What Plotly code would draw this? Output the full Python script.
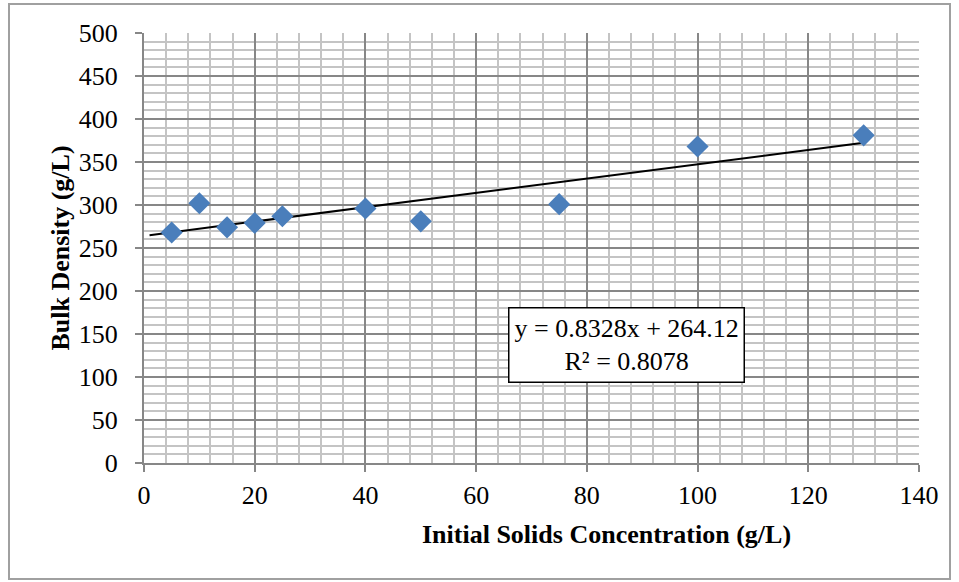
import plotly.graph_objects as go

# Data
conc = [5, 10, 15, 20, 25, 40, 50, 75, 100, 130]
density = [268, 302, 274, 279, 287, 296, 281, 301, 368, 381]

slope = 0.8328
intercept = 264.12
r2 = 0.8078
trend_x = [1, 130]
trend_y = [slope * v + intercept for v in trend_x]

x_ticks = [0, 20, 40, 60, 80, 100, 120, 140]
y_ticks = [0, 50, 100, 150, 200, 250, 300, 350, 400, 450, 500]

x_title = "Initial Solids Concentration (g/L)"
y_title = "Bulk Density (g/L)"

FONT = "Liberation Serif"
FS = 26

fig = go.Figure()
fig.add_trace(go.Scatter(
    x=trend_x, y=trend_y, mode="lines",
    line=dict(color="black", width=2), showlegend=False, hoverinfo="skip"))
fig.add_trace(go.Scatter(
    x=conc, y=density, mode="markers",
    marker=dict(symbol="diamond", size=17, color="#4a7ebb", line=dict(width=0)),
    showlegend=False))

L, R, T, B = 144, 40, 33, 119
W, H = 959, 582
pw, ph = W - L - R, H - T - B

def px2paper_x(px):
    return (px - L) / pw

def px2paper_y(py):
    return (H - B - py) / ph

fig.update_layout(
    width=W, height=H,
    margin=dict(l=L, r=R, t=T, b=B),
    paper_bgcolor="white", plot_bgcolor="white",
    font=dict(family=FONT, color="black", size=FS),
    xaxis=dict(
        range=[0, 140], tickvals=x_ticks, ticktext=[str(v) for v in x_ticks],
        tickfont=dict(family=FONT, size=FS, color="black"),
        showgrid=True, gridcolor="#878787", gridwidth=1.5,
        minor=dict(dtick=4, showgrid=True, gridcolor="#c4c4c4", gridwidth=1.5),
        showline=True, linecolor="#878787", linewidth=2,
        ticks="outside", ticklen=7, tickcolor="#878787", tickwidth=1.5,
        ticklabelstandoff=1,
        zeroline=False,
    ),
    yaxis=dict(
        range=[0, 500], tickvals=y_ticks, ticktext=[str(v) for v in y_ticks],
        tickfont=dict(family=FONT, size=FS, color="black"),
        showgrid=True, gridcolor="#878787", gridwidth=1.5,
        minor=dict(dtick=10, showgrid=True, gridcolor="#c4c4c4", gridwidth=1.5),
        showline=True, linecolor="#878787", linewidth=2,
        ticks="outside", ticklen=7, tickcolor="#878787", tickwidth=1.5,
        ticklabelstandoff=12,
        zeroline=False,
        title=dict(text=f"<b>{y_title}</b>",
                   font=dict(family=FONT, size=FS, color="black"), standoff=2),
    ),
)

# x-axis title (offset to the right as in the reference)
fig.add_annotation(
    xref="paper", yref="paper",
    x=px2paper_x(606), y=px2paper_y(534), xanchor="center", yanchor="middle",
    text=f"<b>{x_title}</b>", showarrow=False,
    font=dict(family=FONT, size=FS, color="black"),
)

# outer chart border
fig.add_shape(type="rect", xref="paper", yref="paper",
              x0=px2paper_x(9), x1=px2paper_x(950), y0=px2paper_y(579), y1=px2paper_y(4),
              line=dict(color="#a0a0a0", width=2), fillcolor="rgba(0,0,0,0)", layer="below")

# equation box
fig.add_annotation(
    xref="paper", yref="paper",
    x=px2paper_x(626), y=px2paper_y(345), xanchor="center", yanchor="middle",
    text=f"y = {slope}x + {intercept}<br>R² = {r2}",
    showarrow=False, align="center",
    font=dict(family=FONT, size=FS, color="black"),
    bgcolor="white", bordercolor="black", borderwidth=1.5, borderpad=5,
)

fig.write_html("out.html")
